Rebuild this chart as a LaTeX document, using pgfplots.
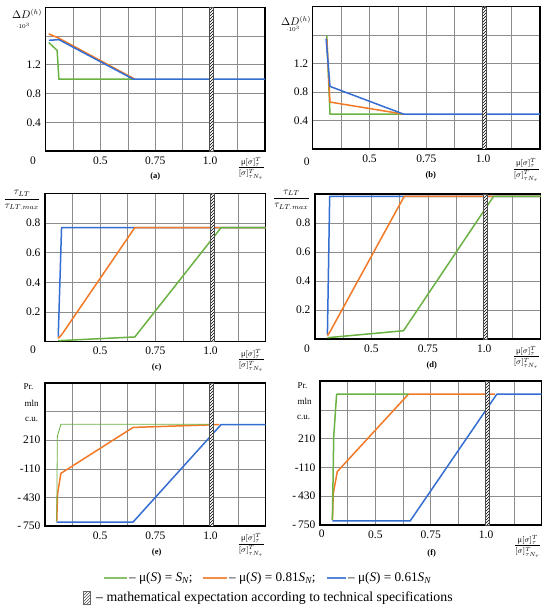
\documentclass[border=0pt]{standalone}
\usepackage{fontspec}
\setmainfont{Liberation Serif}
\usepackage{pgfplots}
\pgfplotsset{compat=1.18}
\usetikzlibrary{patterns}
\definecolor{cg}{RGB}{106,178,66}
\definecolor{co}{RGB}{242,121,38}
\definecolor{cb}{RGB}{52,110,210}
\pgfplotsset{
  base/.style={
    scale only axis, anchor=north west,
    xmin=0.25, xmax=1.25,
    axis line style={line width=1.2pt, black},
    grid=both, grid style={line width=0.6pt, black!45},
    minor grid style={line width=0.6pt, black!45},
    major tick length=0pt, minor tick length=0pt,
    xtick={0.5,0.75,1}, xticklabels={0.5,0.75,1.0},
    minor xtick={0.375,0.625,0.875,1.125},
    tick label style={font=\fontsize{11.5}{12}\selectfont},
    xticklabel style={yshift=-2pt},
    yticklabel style={xshift=-1pt},
    every axis plot/.append style={line width=1.5pt, line join=round},
  },
  hatch/.style={draw=black!70, line width=0.3pt, fill=white,
    postaction={pattern=north east lines, pattern color=black}},
}
\newcommand{\xfrac}{$\displaystyle\frac{\mbox{μ}[\sigma]^T_\tau}{[\sigma]^T_{\tau N_\tau}}$}
\newcommand{\tfrac}{$\displaystyle\frac{\tau_{LT}}{\tau_{LT.max}}$}
\begin{document}
\begin{tikzpicture}
\useasboundingbox (0pt,0pt) rectangle (550pt,-613pt);
\fill[white] (0pt,0pt) rectangle (550pt,-613pt);

% (a)
\begin{axis}[base, at={(45.5pt,-7.3pt)}, width=219.5pt, height=143.7pt,
  ymin=0, ymax=2, ytick={0.4,0.8,1.2}, yticklabels={0.4,0.8,1.2}, minor ytick={1.6}]
\addplot[cg] coordinates {(0.265,1.51) (0.303,1.40) (0.311,1.00) (0.657,1.00)};
\addplot[co] coordinates {(0.265,1.63) (0.311,1.57) (0.657,1.00)};
\addplot[cb] coordinates {(0.265,1.54) (0.311,1.55) (0.650,1.00) (1.25,1.00)};
\addplot[hatch] coordinates {(0.995,0) (1.013,0) (1.013,2) (0.995,2) (0.995,0)};
\end{axis}

% (b)
\begin{axis}[base, at={(312.7pt,-6.7pt)}, width=227.3pt, height=142.3pt,
  ymin=0, ymax=2, ytick={0.4,0.8,1.2}, yticklabels={0.4,0.8,1.2}, minor ytick={1.6}]
\addplot[cg] coordinates {(0.312,1.59) (0.326,0.49) (0.65,0.49)};
\addplot[co] coordinates {(0.312,1.55) (0.326,0.66) (0.65,0.49)};
\addplot[cb] coordinates {(0.309,1.55) (0.326,0.88) (0.65,0.49) (1.25,0.49)};
\addplot[hatch] coordinates {(0.995,0) (1.013,0) (1.013,2) (0.995,2) (0.995,0)};
\end{axis}

% (c)
\begin{axis}[base, at={(45pt,-193.5pt)}, width=220.7pt, height=148.2pt,
  ymin=0, ymax=1, ytick={0.2,0.4,0.6,0.8}, yticklabels={0.2,0.4,0.6,0.8}]
\addplot[cb] coordinates {(0.310,0.034) (0.325,0.77) (1.25,0.77)};
\addplot[co] coordinates {(0.310,0.023) (0.325,0.046) (0.657,0.77) (1.25,0.77)};
\addplot[cg] coordinates {(0.310,0.007) (0.657,0.032) (1.048,0.77) (1.25,0.77)};
\addplot[hatch] coordinates {(1.0,0) (1.018,0) (1.018,1) (1.0,1) (1.0,0)};
\end{axis}

% (d)
\begin{axis}[base, at={(315pt,-194pt)}, width=225.7pt, height=145pt,
  ymin=0, ymax=1, ytick={0.2,0.4,0.6,0.8}, yticklabels={0.2,0.4,0.6,0.8}]
\addplot[cb] coordinates {(0.305,0.032) (0.315,0.983) (1.25,0.983)};
\addplot[co] coordinates {(0.305,0.023) (0.315,0.046) (0.645,0.983) (1.25,0.983)};
\addplot[cg] coordinates {(0.305,0.009) (0.642,0.057) (1.041,0.983) (1.25,0.983)};
\addplot[hatch] coordinates {(0.995,0) (1.013,0) (1.013,1) (0.995,1) (0.995,0)};
\end{axis}

% (e)
\begin{axis}[base, at={(45pt,-383pt)}, width=220.7pt, height=143pt,
  ymin=-750, ymax=850, ytick={-750,-430,-110,210},
  yticklabels={-\,750,-\,430,-110,210}, minor ytick={530}]
\addplot[cb] coordinates {(0.303,-706) (0.649,-706) (1.048,385) (1.25,385)};
\addplot[co] coordinates {(0.303,-702) (0.307,-389) (0.322,-161) (0.649,353) (1.003,382) (1.04,385)};
\addplot[cg, line width=0.8pt] coordinates {(0.303,-702) (0.306,254) (0.322,388) (1.0,388)};
\addplot[hatch] coordinates {(0.995,-750) (1.013,-750) (1.013,850) (0.995,850) (0.995,-750)};
\end{axis}

% (f)
\begin{axis}[base, at={(320pt,-381pt)}, width=221.5pt, height=144pt,
  ymin=-750, ymax=850, ytick={-750,-430,-110,210},
  yticklabels={-\,750,-\,430,-110,210}, minor ytick={530}]
\addplot[cb] coordinates {(0.306,-705) (0.657,-705) (1.048,703) (1.25,703)};
\addplot[co] coordinates {(0.306,-694) (0.310,-398) (0.328,-157) (0.649,703) (1.04,703)};
\addplot[cg] coordinates {(0.306,-694) (0.312,233) (0.325,703) (0.649,703)};
\addplot[hatch] coordinates {(0.995,-750) (1.013,-750) (1.013,850) (0.995,850) (0.995,-750)};
\end{axis}

\begin{scope}[x=1pt,y=1pt]
% y-axis labels
\node[font=\fontsize{10.5}{11}\selectfont] at (27,-14) {$\Delta D^{(h)}$};
\node[font=\fontsize{6}{7}\selectfont] at (23,-26) {$\cdot 10^3$};
\node[font=\fontsize{10.5}{11}\selectfont] at (296,-20.5) {$\Delta D^{(h)}$};
\node[font=\fontsize{6}{7}\selectfont] at (293,-29) {$\cdot 10^3$};
\node[font=\fontsize{10}{11}\selectfont] at (22,-200) {\tfrac};
\node[font=\fontsize{10}{11}\selectfont] at (291.5,-199.5) {\tfrac};
\foreach \xx/\yy/\tt in {28.5/387/Pr.,31.7/403.3/mln,31.7/419/c.u.,302.5/385.7/Pr.,304.5/401.7/mln,303.7/417.7/c.u.}
  \node[font=\fontsize{9}{10}\selectfont] at (\xx,-\yy) {\tt};

% origin zeros
\foreach \xx/\yy in {33/161,306.7/161.7,33/350,307/349,321.7/534}
  \node[font=\fontsize{11.5}{12}\selectfont] at (\xx,-\yy) {0};

% x-axis fraction labels
\foreach \xx/\yy in {251.2/168.5,526.2/170,251.2/360.5,526.2/357.5,251.2/544.8,527.8/546.5}
  \node[font=\fontsize{8.3}{9}\selectfont, inner sep=0pt] at (\xx,-\yy) {\xfrac};

% panel letters
\foreach \xx/\yy/\tt in {155.3/176.7/a,430.7/175.7/b,156.7/367.3/c,431.7/365.7/d,156.7/552.3/e,431.7/553.3/f}
  \node[font=\fontsize{8.5}{9}\selectfont\bfseries] at (\xx,-\yy) {(\tt)};

% legend
\begin{scope}[font=\fontsize{13.2}{14}\selectfont]
\draw[cg!80, line width=1.3pt] (104,-578) -- (127,-578);
\node[anchor=west, inner sep=0pt] at (129,-578) {– μ(\textit{S}) = \textit{S\textsubscript{N}};};
\draw[co!85, line width=1.3pt] (203,-578) -- (227,-578);
\node[anchor=west, inner sep=0pt] at (229,-578) {– μ(\textit{S}) = 0.81\textit{S\textsubscript{N}};};
\draw[cb!85, line width=1.3pt] (327,-578) -- (346,-578);
\node[anchor=west, inner sep=0pt] at (348,-578) {– μ(\textit{S}) = 0.61\textit{S\textsubscript{N}}};
\end{scope}
\fill[white] (83,-591) rectangle (90,-604);
\fill[pattern=north east lines, pattern color=black!70] (83,-591) rectangle (90,-604);
\draw[black!60, line width=0.3pt] (83,-591) rectangle (90,-604);
\node[anchor=west, inner sep=0pt, font=\fontsize{13.8}{14}\selectfont] at (96,-597.7) {– mathematical expectation according to technical specifications};
\end{scope}
\end{tikzpicture}
\end{document}
